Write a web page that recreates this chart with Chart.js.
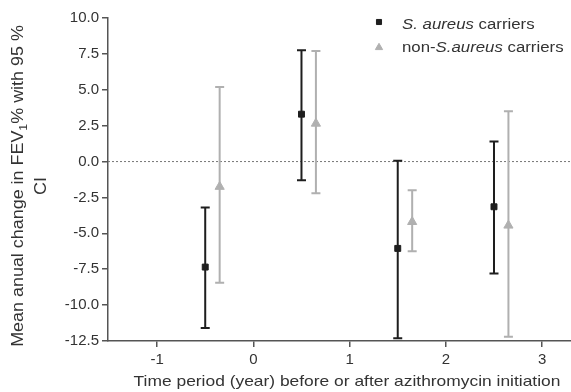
<!DOCTYPE html>
<html>
<head>
<meta charset="utf-8">
<script src="https://cdn.jsdelivr.net/npm/chart.js@4"></script>
<style>
  html, body { margin: 0; padding: 0; background: #fff; overflow: hidden; }
  #wrap { width: 571px; height: 392px; }
</style>
</head>
<body>
<div id="wrap"><canvas id="myChart"></canvas></div>
<script>
// data
const xTicks = [-1, 0, 1, 2, 3];

const carrierX = [-0.5, 0.5, 1.5, 2.5];
const carrierMean = [-7.35, 3.3, -6.05, -3.15];
const carrierLow = [-11.6, -1.3, -12.3, -7.8];
const carrierHigh = [-3.2, 7.75, 0.05, 1.4];

const nonCarrierX = [-0.35, 0.65, 1.65, 2.65];
const nonCarrierMean = [-1.75, 2.65, -4.2, -4.45];
const nonCarrierLow = [-8.45, -2.2, -6.25, -12.2];
const nonCarrierHigh = [5.2, 7.7, -2.0, 3.5];

const black = "#1e1e1e";
const gray = "#b0b0b0";
const textColor = "#333";
const axisColor = "#555";
const fontFam = "'Liberation Sans', Arial, sans-serif";

function toPoints(xs, ys) {
  return xs.map((x, i) => ({ x: x, y: ys[i] }));
}

// draw a run of text pieces, stretched along the line by sx
function drawRun(ctx, parts, x, y, sx) {
  ctx.save();
  ctx.translate(x, y);
  ctx.scale(sx, 1);
  let tx = 0;
  parts.forEach((p) => {
    ctx.font = p.font;
    ctx.fillText(p.text, tx, p.dy || 0);
    tx += ctx.measureText(p.text).width;
  });
  ctx.restore();
}

function runWidth(ctx, parts) {
  let w = 0;
  parts.forEach((p) => { ctx.font = p.font; w += ctx.measureText(p.text).width; });
  return w;
}

// error bars + zero line + titles + legend
const extras = {
  id: "extras",
  beforeDatasetsDraw(chart) {
    const ctx = chart.ctx;
    const xs = chart.scales.x;
    const ys = chart.scales.y;
    const area = chart.chartArea;

    // dotted zero line
    ctx.save();
    ctx.strokeStyle = "#777";
    ctx.lineWidth = 1;
    ctx.setLineDash([2, 2]);
    ctx.beginPath();
    ctx.moveTo(area.left, ys.getPixelForValue(0));
    ctx.lineTo(area.right, ys.getPixelForValue(0));
    ctx.stroke();
    ctx.restore();

    const bars = [
      [carrierX, carrierLow, carrierHigh, black],
      [nonCarrierX, nonCarrierLow, nonCarrierHigh, gray],
    ];
    ctx.save();
    ctx.lineWidth = 2;
    bars.forEach(([xArr, lo, hi, col]) => {
      ctx.strokeStyle = col;
      xArr.forEach((x, i) => {
        const px = xs.getPixelForValue(x);
        const pLo = ys.getPixelForValue(lo[i]);
        const pHi = ys.getPixelForValue(hi[i]);
        ctx.beginPath();
        ctx.moveTo(px, pLo);
        ctx.lineTo(px, pHi);
        ctx.moveTo(px - 4.5, pLo);
        ctx.lineTo(px + 4.5, pLo);
        ctx.moveTo(px - 4.5, pHi);
        ctx.lineTo(px + 4.5, pHi);
        ctx.stroke();
      });
    });
    ctx.restore();
  },
  afterDraw(chart) {
    const ctx = chart.ctx;
    ctx.save();
    ctx.fillStyle = textColor;
    ctx.textBaseline = "alphabetic";

    // y title (rotated, with subscript)
    const cy = 186;
    const f1 = "16px " + fontFam;
    const yParts = [
      { text: "Mean anual change in FEV", font: f1 },
      { text: "1", font: "11px " + fontFam, dy: 4 },
      { text: "% with 95 %", font: f1 },
    ];
    ctx.save();
    ctx.translate(23, cy);
    ctx.rotate(-Math.PI / 2);
    const sy = 1.12;
    const w1 = runWidth(ctx, yParts) * sy;
    drawRun(ctx, yParts, -w1 / 2, 0, sy);
    const ciParts = [{ text: "CI", font: f1 }];
    const w2 = runWidth(ctx, ciParts) * sy;
    drawRun(ctx, ciParts, -w2 / 2, 23, sy);
    ctx.restore();

    // x title
    const xParts = [{ text: "Time period (year) before or after azithromycin initiation", font: "14.5px " + fontFam }];
    const wx = runWidth(ctx, xParts) * 1.2;
    drawRun(ctx, xParts, 347 - wx / 2, 386, 1.2);

    // legend
    const rows = [
      { y: 28.5, my: 22, style: "rect", r: 3.6, color: black,
        parts: [{ text: "S. aureus", italic: true }, { text: " carriers" }] },
      { y: 52, my: 47.5, style: "triangle", r: 4.2, color: gray,
        parts: [{ text: "non-" }, { text: "S.aureus", italic: true }, { text: " carriers" }] },
    ];
    rows.forEach((r) => {
      ctx.fillStyle = r.color;
      ctx.strokeStyle = r.color;
      Chart.helpers.drawPoint(ctx, { pointStyle: r.style, radius: r.r, rotation: 0, borderWidth: 1 }, 379, r.my);
      ctx.fillStyle = textColor;
      const parts = r.parts.map((p) => ({ text: p.text, font: (p.italic ? "italic " : "") + "14px " + fontFam }));
      drawRun(ctx, parts, 402, r.y, 1.2);
    });
    ctx.restore();
  },
};

const ctx = document.getElementById("myChart");
const data = {
  datasets: [
    {
      label: "S. aureus carriers",
      data: toPoints(carrierX, carrierMean),
      pointStyle: "rect",
      pointRadius: 4.2,
      backgroundColor: black,
      borderColor: black,
      borderWidth: 1,
    },
    {
      label: "non-S.aureus carriers",
      data: toPoints(nonCarrierX, nonCarrierMean),
      pointStyle: "triangle",
      pointRadius: 5.3,
      backgroundColor: gray,
      borderColor: gray,
      borderWidth: 1,
    },
  ],
};

const config = {
  type: "scatter",
  data: data,
  options: {
    responsive: true,
    maintainAspectRatio: false,
    animation: false,
    layout: { autoPadding: false, padding: { top: 18, right: 0, left: 0, bottom: 0 } },
    plugins: {
      legend: { display: false },
      tooltip: { enabled: false },
    },
    scales: {
      x: {
        type: "linear",
        min: -1.51,
        max: 3.3,
        afterBuildTicks: (scale) => {
          scale.ticks = xTicks.map((v) => ({ value: v }));
        },
        afterFit: (scale) => {
          scale.height = 51;
          scale.paddingRight = 0;
          scale.paddingLeft = 0;
        },
        grid: { drawOnChartArea: false, tickLength: 6, color: axisColor, lineWidth: 1.5 },
        border: { color: axisColor, width: 1.5 },
        ticks: {
          color: textColor,
          font: { size: 15, family: fontFam },
          padding: 4,
          maxRotation: 0,
        },
      },
      y: {
        min: -12.5,
        max: 10,
        afterFit: (scale) => {
          scale.width = 108;
          scale.paddingTop = 0;
          scale.paddingBottom = 0;
        },
        grid: { drawOnChartArea: false, tickLength: 6, color: axisColor, lineWidth: 1.5 },
        border: { color: axisColor, width: 1.5 },
        ticks: {
          stepSize: 2.5,
          color: textColor,
          font: { size: 15, family: fontFam },
          padding: 3,
          callback: (v) => v.toFixed(1),
        },
      },
    },
  },
  plugins: [extras],
};

const myChart = new Chart(ctx, config);
</script>
</body>
</html>
